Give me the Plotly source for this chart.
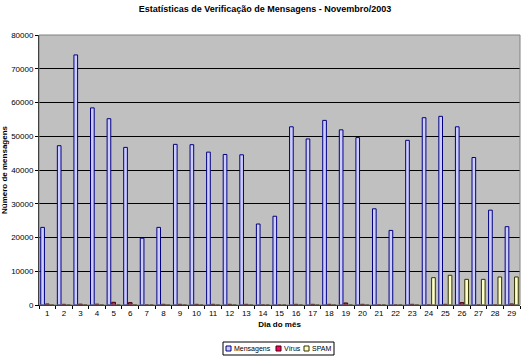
import plotly.graph_objects as go

dias = [str(d) for d in range(1, 30)]
mensagens = [23000, 47200, 74100, 58400, 55200, 46700, 19800, 23000, 47600, 47500,
             45300, 44600, 44500, 24000, 26300, 52800, 49200, 54700, 51900, 49600,
             28500, 22100, 48800, 55500, 55900, 52800, 43700, 28100, 23200]
virus = [300, 200, 250, 250, 800, 700, 0, 200, 200, 200,
         200, 200, 200, 0, 0, 200, 200, 200, 600, 200,
         0, 0, 200, 0, 200, 700, 0, 0, 300]
spam = [0, 0, 0, 0, 0, 0, 0, 0, 0, 0,
        0, 0, 0, 0, 0, 0, 0, 0, 0, 0,
        0, 0, 0, 8100, 8800, 7600, 7600, 8300, 8300]
y_ticks = [0, 10000, 20000, 30000, 40000, 50000, 60000, 70000, 80000]
series_names = ["Mensagens", "Vírus", "SPAM"]
fills = ["#ccccff", "#ff0066", "#ffffcc"]
edges = ["#000080", "#400000", "#333300"]

FONT = "Liberation Sans, Arial, sans-serif"

# plot area in pixels
L, R, T, B = 39, 520, 35, 305
W, H = 530, 362
def px(x):
    return (x - L) / (R - L)
def py(y):
    return (B - y) / (B - T)

fig = go.Figure()
for name, vals, fc, ec in zip(series_names, [mensagens, virus, spam], fills, edges):
    fig.add_trace(go.Bar(x=dias, y=vals, name=name,
                         marker=dict(color=fc, line=dict(color=ec, width=1))))

fig.update_layout(
    width=W, height=H,
    margin=dict(l=L, r=W - R, t=T, b=H - B),
    paper_bgcolor="white",
    plot_bgcolor="#c0c0c0",
    barmode="group",
    bargap=0.15,
    bargroupgap=0.22,
    font=dict(family=FONT, size=8, color="black"),
    title=dict(text="<b>Estatísticas de Verificação de Mensagens - Novembro/2003</b>",
               x=0.5, xanchor="center", y=1 - 9 / H, yanchor="middle",
               font=dict(family=FONT, size=9, color="black")),
    showlegend=False,
    xaxis=dict(
        title=dict(text="<b>Dia do mês</b>", font=dict(family=FONT, size=8), standoff=4),
        showgrid=False, showline=True, linecolor="black", linewidth=1,
        ticks="outside", ticklen=3, tickcolor="black", tickson="boundaries",
        tickfont=dict(family=FONT, size=8), tickangle=0, automargin=False,
    ),
    yaxis=dict(
        title=dict(text="<b>Número de mensagens</b>", font=dict(family=FONT, size=8), standoff=4),
        range=[0, 80000], tickvals=y_ticks, ticktext=[str(v) for v in y_ticks],
        showgrid=True, gridcolor="black", gridwidth=1,
        showline=True, linecolor="black", linewidth=1,
        ticks="outside", ticklen=3, tickcolor="black",
        tickfont=dict(family=FONT, size=8), zeroline=False, automargin=False,
    ),
)

# plot-area border (grey like the reference)
fig.add_shape(type="rect", xref="paper", yref="paper", x0=0, x1=1, y0=0, y1=1,
              line=dict(color="#808080", width=1), layer="above")

# custom compact legend
fig.add_shape(type="rect", xref="paper", yref="paper",
              x0=px(223), x1=px(334), y0=py(355), y1=py(342),
              line=dict(color="black", width=1), fillcolor="white")
sq_x = [226, 276, 304]
for sx, name, fc, ec in zip(sq_x, series_names, fills, edges):
    fig.add_shape(type="rect", xref="paper", yref="paper",
                  x0=px(sx), x1=px(sx + 5), y0=py(351), y1=py(346),
                  line=dict(color=ec, width=1), fillcolor=fc)
    fig.add_annotation(xref="paper", yref="paper", x=px(sx + 6), y=py(348.5),
                       text=name, showarrow=False, xanchor="left", yanchor="middle",
                       font=dict(family=FONT, size=7, color="black"))

fig.write_html("out.html", config={"displayModeBar": False},
               post_script="document.body.style.margin='0';")
